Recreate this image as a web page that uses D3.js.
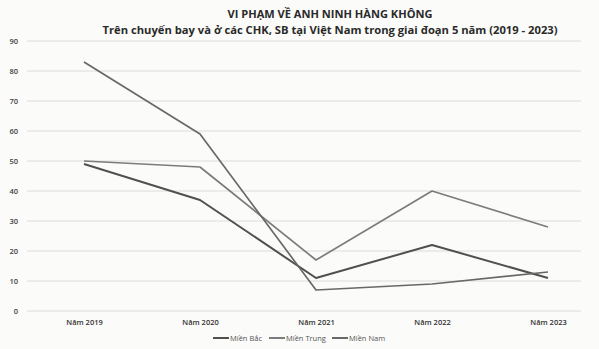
<!DOCTYPE html>
<html><head><meta charset="utf-8">
<script src="https://cdn.jsdelivr.net/npm/d3@7"></script>
<style>html,body{margin:0;padding:0;background:#fbfbf9;}svg{display:block;font-family:"Open Sans","Noto Sans",sans-serif;}</style>
</head><body>
<svg id="c" width="599" height="349"></svg>
<script>
const categories = ["Năm 2019","Năm 2020","Năm 2021","Năm 2022","Năm 2023"];
const mienBac = [49, 37, 11, 22, 11];
const mienTrung = [50, 48, 17, 40, 28];
const mienNam = [83, 59, 7, 9, 13];
const yTicks = [0,10,20,30,40,50,60,70,80,90];
const seriesNames = ["Miền Bắc","Miền Trung","Miền Nam"];
const title = "VI PHẠM VỀ ANH NINH HÀNG KHÔNG";
const subtitle = "Trên chuyến bay và ở các CHK, SB tại Việt Nam trong giai đoạn 5 năm (2019 - 2023)";

const series = [
  {name: seriesNames[0], values: mienBac, color: "#505050", w: 2},
  {name: seriesNames[1], values: mienTrung, color: "#7c7c7c", w: 1.7},
  {name: seriesNames[2], values: mienNam, color: "#686868", w: 1.7}
];

const svg = d3.select("#c");
const x = d3.scalePoint().domain(categories).range([26, 606]).padding(0.5);
const y = d3.scaleLinear().domain([0, 90]).range([311, 41]);

svg.append("g").selectAll("line").data(yTicks).join("line")
  .attr("x1", 27).attr("x2", 581)
  .attr("y1", d => y(d)).attr("y2", d => y(d))
  .attr("stroke", "#dcdcdc").attr("stroke-width", 1);

const ya = svg.append("g").attr("transform", "translate(18,0)")
  .call(d3.axisLeft(y).tickValues(yTicks).tickSize(0).tickPadding(0));
ya.select(".domain").remove();
ya.selectAll("text").attr("font-size", 7.5).attr("fill", "#444").attr("font-weight", 600)
  .attr("font-family", "'Open Sans',sans-serif");

const xa = svg.append("g").attr("transform", "translate(0,320)")
  .call(d3.axisBottom(x).tickSize(0).tickPadding(0));
xa.select(".domain").remove();
xa.selectAll("text").attr("font-size", 7.5).attr("fill", "#333").attr("font-weight", 600)
  .attr("font-family", "'Open Sans',sans-serif");

const line = d3.line().x((d, i) => x(categories[i])).y(d => y(d));
svg.append("g").selectAll("path").data(series).join("path")
  .attr("d", d => line(d.values))
  .attr("fill", "none").attr("stroke", d => d.color).attr("stroke-width", d => d.w)
  .attr("stroke-linejoin", "round");

svg.append("text").attr("x", 330).attr("y", 18).attr("text-anchor", "middle")
  .attr("font-size", 10.5).attr("font-weight", 700).attr("fill", "#2a2a2a")
  .attr("textLength", 205).attr("lengthAdjust", "spacingAndGlyphs").text(title);
svg.append("text").attr("x", 330).attr("y", 34).attr("text-anchor", "middle")
  .attr("font-size", 10.5).attr("font-weight", 700).attr("fill", "#2a2a2a")
  .attr("textLength", 455).attr("lengthAdjust", "spacingAndGlyphs").text(subtitle);

const legX = [213, 269, 332];
const lg = svg.append("g").selectAll("g").data(series).join("g")
  .attr("transform", (d, i) => `translate(${legX[i]},338)`);
lg.append("line").attr("x1", 0).attr("x2", 16).attr("y1", 0).attr("y2", 0)
  .attr("stroke", d => d.color).attr("stroke-width", 2);
lg.append("text").attr("x", 17).attr("y", 2.8).attr("font-size", 7.5)
  .attr("fill", "#555").text(d => d.name);
</script>
</body></html>
